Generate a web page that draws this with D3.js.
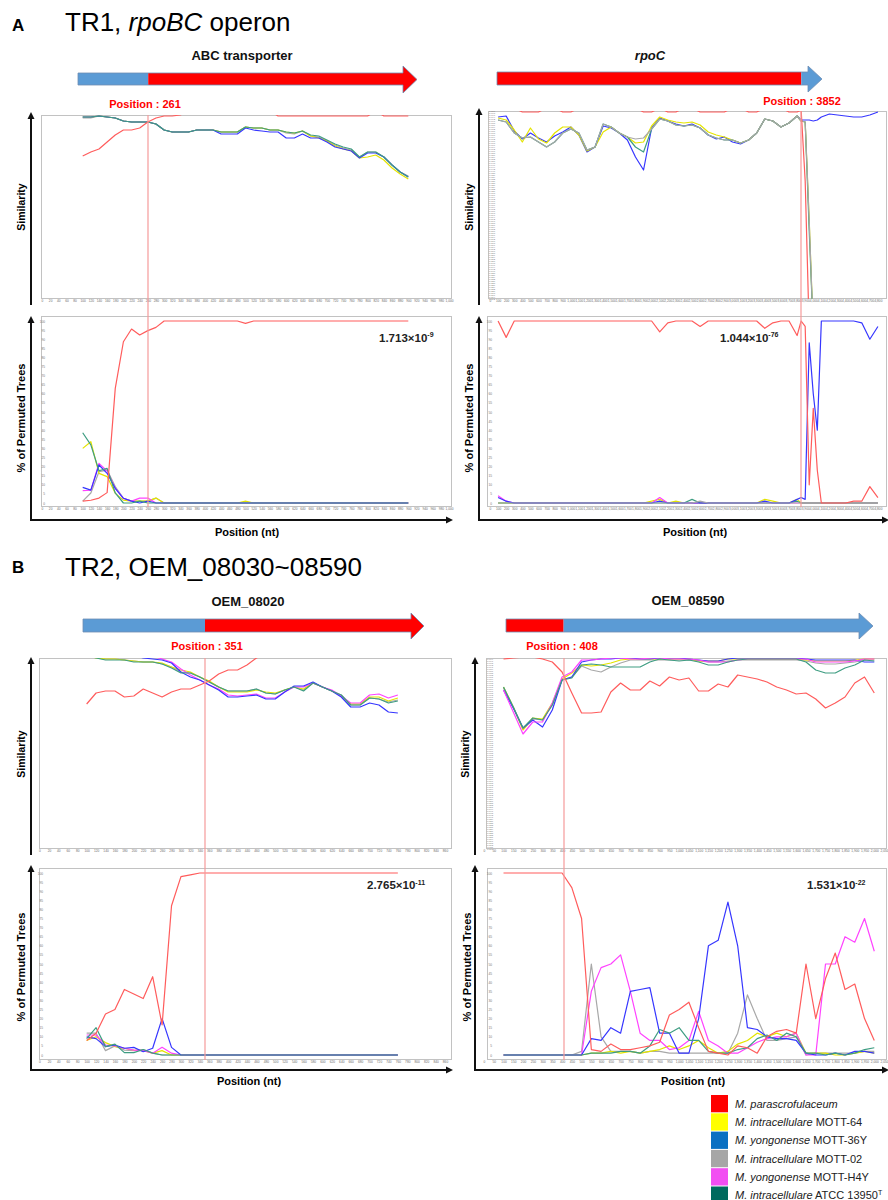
<!DOCTYPE html>
<html>
<head>
<meta charset="utf-8">
<script src="https://cdn.jsdelivr.net/npm/d3@7/dist/d3.min.js"></script>
<style>
html,body{margin:0;padding:0;background:#fff;}
svg{display:block;}
</style>
</head>
<body>
<svg id="fig" width="888" height="1200" viewBox="0 0 888 1200"></svg>
<script>
// ================= DATA =================
const legendSpecies = ["M. parascrofulaceum","M. intracellulare","M. yongonense","M. intracellulare","M. yongonense","M. intracellulare"];
const legendStrains = ["","MOTT-64","MOTT-36Y","MOTT-02","MOTT-H4Y","ATCC 13950"];
const legendKeys = ["red","yellow","blue","gray","magenta","teal"];

// ---- Panel A, left : ABC transporter ----
const posA1 = [100,120,140,160,180,200,220,240,260,280,300,320,340,360,380,400,420,440,460,480,500,520,540,560,580,600,620,640,660,680,700,720,740,760,780,800,820,840,860,880,900];
const simA1_red = [0.959,0.963,0.966,0.973,0.980,0.985,0.985,0.987,0.993,0.997, 0.999,0.999,1.000,1.004,1.004,1.004,1.004,1.004,1.004,1.004, 1.004,1.004,1.004,1.004,0.999,0.999,0.999,0.999,0.999,0.999, 0.999,0.999,0.999,0.999,0.999,0.999,1.004,0.999,0.999,0.999,0.999];
const simA1_yellow = [0.998,0.998,0.999,0.998,0.997,0.994,0.993,0.993,0.993,0.991, 0.985,0.983,0.983,0.983,0.985,0.985,0.985,0.983,0.983,0.983, 0.988,0.987,0.987,0.985,0.985,0.983,0.982,0.984,0.979,0.977, 0.974,0.969,0.966,0.964,0.957,0.958,0.960,0.955,0.947,0.941,0.936];
const simA1_blue = [0.998,0.998,0.999,0.998,0.997,0.994,0.993,0.993,0.993,0.991, 0.985,0.983,0.983,0.983,0.985,0.985,0.985,0.981,0.981,0.981, 0.987,0.985,0.984,0.983,0.983,0.977,0.977,0.981,0.977,0.977, 0.973,0.968,0.966,0.964,0.957,0.962,0.962,0.958,0.950,0.943,0.938];
const simA1_gray = [0.997,0.997,0.999,0.998,0.997,0.994,0.993,0.993,0.993,0.991, 0.985,0.983,0.983,0.983,0.985,0.985,0.985,0.983,0.983,0.983, 0.988,0.987,0.987,0.985,0.985,0.982,0.981,0.984,0.979,0.978, 0.974,0.970,0.967,0.965,0.958,0.963,0.963,0.958,0.950,0.943,0.939];
const simA1_teal = [0.998,0.998,0.999,0.998,0.997,0.994,0.993,0.993,0.993,0.991, 0.985,0.983,0.983,0.983,0.985,0.985,0.985,0.983,0.983,0.983, 0.988,0.987,0.987,0.985,0.985,0.983,0.982,0.984,0.980,0.979, 0.975,0.971,0.968,0.966,0.958,0.963,0.963,0.958,0.950,0.943,0.938];
const permA1_red = [1,1.5,2.7,5.7,63,88.6,95.6,92.3,94.7,96.5, 100,100,100,100,100,100,100,100,100,100, 98.7,100,100,100,100,100,100,100,100,100, 100,100,100,100,100,100,100,100,100,100,100];
const permA1_yellow = [30,33.7,16.3,14.5,5.3,1.6,1,1,1,2.7, 0,0,0,0,0,0,0,0,0,0, 1,0,0,0,0,0,0,0,0,0, 0,0,0,0,0,0,0,0,0,0,0];
const permA1_blue = [8.6,7.1,20.9,16.3,8.1,2.6,1,0,1,0, 0,0,0,0,0,0,0,0,0,0, 0,0,0,0,0,0,0,0,0,0, 0,0,0,0,0,0,0,0,0,0,0];
const permA1_gray = [1,5.5,17.2,18.1,9,2.6,1,1,1,2.7, 0,0,0,0,0,0,0,0,0,0, 0,0,0,0,0,0,0,0,0,0, 0,0,0,0,0,0,0,0,0,0,0];
const permA1_magenta = [6.8,7,21.8,17.6,8,2.6,1,2.7,2.7,0, 0,0,0,0,0,0,0,0,0,0, 0,0,0,0,0,0,0,0,0,0, 0,0,0,0,0,0,0,0,0,0,0];
const permA1_teal = [38.6,31.9,17.7,19,5.5,0,0,1,0,0, 0,0,0,0,0,0,0,0,0,0, 0,0,0,0,0,0,0,0,0,0, 0,0,0,0,0,0,0,0,0,0,0];

// ---- Panel A, right : rpoC ----
const posA2 = [100,200,300,400,500,600,700,800,900,1000,1100,1200,1300,1400,1500,1600,1700,1800,1900,2000,2100,2200,2300,2400,2500,2600,2700,2800,2900,3000,3100,3200,3300,3400,3500,3600,3700,3800,3850,3900,3950,4000,4050,4100,4200,4300,4400,4500,4600,4700,4800];
const simA2_red = [1.003,1.003,1.003,0.999,0.999,0.999,1.003,1.003,0.999,0.999, 1.003,1.003,1.003,1.003,1.003,1.003,1.003,1.003,0.999,0.999, 1.003,0.999,0.999,1.003,1.003,0.999,0.999,0.999,0.999,1.003, 1.003,0.999,0.999,1.003,1.003,1.003,0.999,0.999, 1.001,0.930,0.780,0.780,0.780,0.780,0.780,0.780,0.780,0.780,0.780,0.780,0.780];
const simA2_yellow = [0.993,0.991,0.981,0.969,0.983,0.972,0.968,0.978,0.984,0.984, 0.976,0.960,0.964,0.979,0.984,0.978,0.974,0.968,0.969,0.985, 0.994,0.991,0.989,0.988,0.989,0.986,0.979,0.976,0.974,0.971, 0.968,0.971,0.978,0.992,0.990,0.984,0.988,0.995, 0.990,0.989,0.890,0.780,0.780,0.780,0.780,0.780,0.780,0.780,0.780,0.780,0.780];
const simA2_blue = [0.994,0.995,0.980,0.972,0.978,0.973,0.969,0.975,0.979,0.984, 0.976,0.959,0.964,0.985,0.983,0.978,0.971,0.954,0.941,0.983, 0.993,0.990,0.987,0.985,0.987,0.983,0.976,0.972,0.974,0.969, 0.967,0.971,0.978,0.992,0.990,0.984,0.988,0.995, 0.991,0.991,0.991,0.990,0.991,0.994,0.997,0.996,0.995,0.994,0.994,0.996,0.999];
const simA2_gray = [0.991,0.989,0.978,0.973,0.974,0.969,0.964,0.969,0.978,0.982, 0.978,0.961,0.964,0.987,0.984,0.978,0.974,0.972,0.973,0.982, 0.992,0.990,0.986,0.985,0.986,0.983,0.976,0.973,0.971,0.971, 0.968,0.971,0.978,0.992,0.990,0.984,0.988,0.995, 0.990,0.989,0.890,0.780,0.780,0.780,0.780,0.780,0.780,0.780,0.780,0.780,0.780];
const simA2_teal = [0.991,0.989,0.978,0.973,0.974,0.969,0.964,0.969,0.978,0.982, 0.978,0.961,0.964,0.987,0.984,0.978,0.974,0.964,0.959,0.982, 0.992,0.990,0.986,0.985,0.986,0.983,0.976,0.973,0.971,0.971, 0.968,0.971,0.978,0.992,0.990,0.984,0.988,0.995, 0.990,0.989,0.880,0.780,0.780,0.780,0.780,0.780,0.780,0.780,0.780,0.780,0.780];
const permA2_red = [100,91,100,100,100,100,100,100,100,100, 100,100,100,100,100,100,100,100,100,100, 94,99,100,100,100,97,100,100,100,100, 100,100,100,96,99,100,100,92, 100,97,10,52,18,0,0,0,0,1,1,9,3];
const permA2_yellow = [0,0,0,0,0,0,0,0,0,0, 0,0,0,0,0,0,0,0,0,1, 2,0,1,0,0,0,0,0,0,0, 0,0,0,2,1,0,0,2, 0,0,0,0,0,0,0,0,0,0,0,0,0];
const permA2_blue = [3,1,0,0,0,0,0,0,0,0, 0,0,0,0,0,0,0,0,0,0, 1,0,0,0,0,0,0,0,0,0, 0,0,0,1,0,0,0,2, 3,2,88,60,40,100,100,100,100,100,99,90,97];
const permA2_gray = [0,0,0,0,0,0,0,0,0,0, 0,0,0,0,0,0,0,0,0,0, 0,0,0,0,0,1,0,0,0,0, 0,0,0,0,0,0,0,0, 0,0,0,0,0,0,0,0,0,0,0,0,0];
const permA2_magenta = [4,1,0,0,0,0,0,0,0,0, 0,0,0,0,0,0,0,0,0,0, 3,0,0,0,0,0,0,0,0,0, 0,0,0,0,0,0,0,0, 0,0,0,0,0,0,0,0,0,0,0,0,0];
const permA2_teal = [0,0,0,0,0,0,0,0,0,0, 0,0,0,0,0,0,0,0,0,0, 0,0,0,0,2,0,0,0,0,0, 0,0,0,0,0,0,0,1, 0,0,0,0,0,0,0,0,0,0,0,0,0];

// ---- Panel B, left : OEM_08020 ----
const posB1 = [100,120,140,160,180,200,220,240,260,280,300,320,340,360,380,400,420,440,460,480,500,520,540,560,580,600,620,640,660,680,700,720,740,760];
const simB1_red = [0.954,0.965,0.967,0.967,0.961,0.962,0.969,0.965,0.961,0.966, 0.969,0.969,0.973,0.977,0.984,0.988,0.988,0.993,1.000,1.004, 1.004,1.004,1.004,1.004,1.004,1.004,1.004,1.004,1.004,1.004, 1.004,1.004,1.004,1.004];
const simB1_yellow = [1.003,1.000,0.999,0.999,0.998,0.997,0.996,0.996,0.995,0.991, 0.988,0.986,0.981,0.977,0.971,0.966,0.966,0.966,0.968,0.966, 0.965,0.968,0.971,0.969,0.975,0.971,0.967,0.962,0.954,0.954, 0.961,0.961,0.957,0.960];
const simB1_blue = [1.003,1.003,1.003,1.003,1.003,1.003,1.000,0.999,0.998,0.995, 0.986,0.981,0.978,0.973,0.968,0.961,0.961,0.962,0.963,0.959, 0.959,0.966,0.972,0.972,0.976,0.971,0.967,0.961,0.951,0.951, 0.955,0.953,0.946,0.945];
const simB1_gray = [1.003,1.001,0.999,0.999,0.998,0.997,0.996,0.996,0.994,0.991, 0.986,0.985,0.981,0.976,0.971,0.967,0.967,0.967,0.969,0.965, 0.964,0.968,0.971,0.968,0.975,0.971,0.967,0.963,0.953,0.953, 0.960,0.959,0.956,0.958];
const simB1_magenta = [1.003,1.003,1.003,1.003,1.003,1.003,1.003,1.002,0.999,0.996, 0.989,0.983,0.978,0.973,0.969,0.963,0.962,0.963,0.964,0.960, 0.960,0.966,0.971,0.971,0.975,0.971,0.968,0.962,0.955,0.955, 0.963,0.964,0.960,0.963];
const simB1_teal = [1.003,1.000,0.998,0.998,0.998,0.996,0.996,0.996,0.994,0.990, 0.985,0.985,0.981,0.976,0.971,0.967,0.967,0.967,0.969,0.965, 0.964,0.968,0.971,0.967,0.975,0.971,0.967,0.963,0.953,0.953, 0.960,0.959,0.955,0.957];
const permB1_red = [8,12,22.5,25,36,33.5,31,43,16.5,82, 98,99,100,100,100,100,100,100,100,100, 100,100,100,100,100,100,100,100,100,100, 100,100,100,100];
const permB1_yellow = [8,10,6.8,4.6,3.7,2.7,2.4,1,2.4,0, 0,0,0,0,0,0,0,0,0,0, 0,0,0,0,0,0,0,0,0,0, 0,0,0,0];
const permB1_blue = [10,9,4.6,5.5,3.7,4.2,1.8,3.7,20,4.2, 0,0,0,0,0,0,0,0,0,0, 0,0,0,0,0,0,0,0,0,0, 0,0,0,0];
const permB1_gray = [12,12,2.4,5,2.7,2.4,3,1,0,0, 0,0,0,0,0,0,0,0,0,0, 0,0,0,0,0,0,0,0,0,0, 0,0,0,0];
const permB1_magenta = [11,11,5.5,5,3.7,2.7,2.4,1,4.2,1, 0,0,0,0,0,0,0,0,0,0, 0,0,0,0,0,0,0,0,0,0, 0,0,0,0];
const permB1_teal = [9,15,4.6,6,1.3,1.3,3,1,0,0, 0,0,0,0,0,0,0,0,0,0, 0,0,0,0,0,0,0,0,0,0, 0,0,0,0];

// ---- Panel B, right : OEM_08590 ----
const posB2 = [100,150,200,250,300,350,400,450,500,550,600,650,700,750,800,850,900,950,1000,1050,1100,1150,1200,1250,1300,1350,1400,1450,1500,1550,1600,1650,1700,1750,1800,1850,1900,1950,2000];
const simB2_red = [0.999,1.000,1.001,1.001,0.999,0.996,0.986,0.965,0.945,0.945, 0.946,0.966,0.975,0.968,0.968,0.977,0.972,0.981,0.978,0.980, 0.967,0.967,0.974,0.971,0.983,0.981,0.979,0.976,0.971,0.968, 0.964,0.965,0.959,0.950,0.955,0.961,0.975,0.981,0.965];
const simB2_yellow = [0.971,0.951,0.928,0.940,0.939,0.955,0.979,0.985,0.993,0.992, 0.993,0.995,0.998,0.999,0.999,0.999,0.999,0.999,0.999,0.999, 0.997,0.997,0.997,0.999,0.999,0.999,0.999,0.999,0.999,0.999, 0.999,0.998,0.997,0.997,0.997,0.997,0.998,0.999,0.999];
const simB2_blue = [0.968,0.950,0.930,0.938,0.931,0.948,0.978,0.981,0.996,0.998, 0.999,0.999,1.000,1.000,0.999,0.999,1.000,1.000,1.000,0.999, 0.998,0.997,0.997,0.999,1.000,1.000,1.000,1.000,1.000,1.000, 1.000,0.999,0.998,0.998,0.998,0.998,0.998,0.996,0.996];
const simB2_gray = [0.970,0.951,0.929,0.939,0.938,0.953,0.978,0.981,0.992,0.988, 0.986,0.991,0.995,0.998,0.998,0.998,0.998,0.998,0.998,0.998, 0.997,0.996,0.996,0.997,0.998,0.998,0.998,0.998,0.998,0.998, 0.998,0.997,0.995,0.994,0.994,0.995,0.996,0.998,0.998];
const simB2_magenta = [0.968,0.946,0.924,0.936,0.936,0.955,0.981,0.986,0.998,0.998, 0.999,1.000,1.000,0.999,0.999,1.000,1.000,0.999,0.999,0.999, 0.998,0.996,0.996,0.996,0.998,0.999,0.999,0.999,0.999,0.999, 0.999,0.999,0.996,0.996,0.996,0.996,0.997,0.999,0.999];
const simB2_teal = [0.971,0.951,0.930,0.940,0.938,0.953,0.978,0.980,0.993,0.994, 0.993,0.991,0.991,0.991,0.991,0.996,0.999,0.998,0.997,0.998, 0.996,0.993,0.993,0.996,0.998,0.999,0.999,0.999,0.999,0.999, 0.999,0.996,0.988,0.985,0.985,0.990,0.993,0.998,0.997];
const permB2_red = [100,100,100,100,100,100,100,92,75,3, 2,6,3,3,4,5,7,22,25,29, 15,2,1,0,5,4,1,10,13,14, 12,50,20,42,56,36,39,20,8];
const permB2_yellow = [0,0,0,0,0,0,0,0,0,1, 1,2,1,2,1,2,3,5,3,5, 8,4,1,2,6,8,12,10,12,10, 12,1,1,1,0,0,1,2,1];
const permB2_blue = [0,0,0,0,0,0,0,0,0,9, 8,15,12,35,36,37,12,12,1,1, 20,60,63,84,60,15,14,10,9,9, 8,1,0,0,1,0,2,2,1];
const permB2_gray = [0,0,0,0,0,0,0,0,2,50, 10,2,2,2,1,2,2,1,1,1, 1,1,1,1,12,33,20,8,8,9, 10,0,1,1,1,1,1,2,2];
const permB2_magenta = [0,0,0,0,0,0,0,0,0,35, 48,50,55,35,12,8,8,3,4,8, 24,8,5,1,1,4,7,9,10,10, 12,0,0,50,50,65,62,75,57];
const permB2_teal = [0,0,0,0,0,0,0,0,0,1, 1,1,2,2,1,5,14,12,15,8, 8,2,1,1,3,4,9,11,8,12, 10,1,1,0,1,0,1,3,4];

// breakpoints and p-values
const breakA1 = 261, breakA2 = 3852, breakB1 = 351, breakB2 = 408;
const pvals = [["1.713","-9"],["1.044","-76"],["2.765","-11"],["1.531","-22"]];

// ================= STYLE =================
const FONT = '"Liberation Sans", Arial, Helvetica, sans-serif';
const lineColor = {red:"#ff5c5c", yellow:"#e4e400", blue:"#3636ff", gray:"#a8a8a8", magenta:"#ff42ff", teal:"#3e9d82"};
const legendColor = {red:"#ff0000", yellow:"#ffff00", blue:"#0a70c2", gray:"#a6a6a6", magenta:"#f24ef2", teal:"#006a5e"};
const geneBlue = "#5b9bd5", geneRed = "#ff0000";

const svg = d3.select("#fig");
const defs = svg.append("defs");
svg.append("rect").attr("width",888).attr("height",1200).attr("fill","#fff");

function txt(x, y, s, o) {
  o = o || {};
  const t = svg.append("text").attr("x", x).attr("y", y)
    .attr("font-family", FONT).attr("font-size", o.size || 12)
    .attr("font-weight", o.bold ? "bold" : "normal")
    .attr("font-style", o.italic ? "italic" : "normal")
    .attr("fill", o.fill || "#000")
    .attr("text-anchor", o.anchor || "start");
  if (o.rotate) {
    t.attr("x", 0).attr("y", 0).attr("transform", `translate(${x},${y}) rotate(-90)`).attr("dominant-baseline", "central");
  }
  if (s !== null) t.text(s);
  return t;
}

function drawPlot(p) {
  const g = svg.append("g");
  const b = p.box;
  const cid = "clip-" + p.id;
  defs.append("clipPath").attr("id", cid).append("rect")
    .attr("x", b.x0).attr("y", b.y0).attr("width", b.x1 - b.x0).attr("height", b.y1 - b.y0);
  g.append("rect").attr("x", b.x0 + 0.5).attr("y", b.y0 + 0.5)
    .attr("width", b.x1 - b.x0 - 1).attr("height", b.y1 - b.y0 - 1)
    .attr("fill", "#fff").attr("stroke", "#c2c2c2").attr("stroke-width", 1);
  const ax = g.append("g").attr("transform", `translate(0,${b.y1 + 1.2})`)
    .call(d3.axisBottom(p.x).tickValues(p.xTicks).tickFormat(p.xFmt).tickSize(0).tickPadding(0));
  ax.select(".domain").remove();
  ax.selectAll("text").attr("font-size", 3.2).attr("fill", "#6a6a6a").attr("font-family", FONT);
  if (p.yTicks) {
    const ay = g.append("g").attr("transform", `translate(${b.x0 + p.yDx},0)`)
      .call(d3.axisLeft(p.y).tickValues(p.yTicks).tickFormat(p.yFmt).tickSize(0).tickPadding(0));
    ay.select(".domain").remove();
    ay.selectAll("text").attr("font-size", p.yFont).attr("fill", "#777").attr("font-family", FONT);
  }
  const line = d3.line().x((d, i) => p.x(p.pos[i])).y(d => p.y(d));
  p.order.forEach(k => {
    const vals = p.series[k];
    if (!vals) return;
    g.append("path").datum(vals).attr("d", line).attr("clip-path", `url(#${cid})`)
      .attr("fill", "none").attr("stroke", lineColor[k]).attr("stroke-width", 1.2)
      .attr("stroke-linejoin", "round");
  });
}

function arrowUp(x, yb, yt) {
  svg.append("line").attr("x1", x).attr("x2", x).attr("y1", yb).attr("y2", yt + 6)
    .attr("stroke", "#111").attr("stroke-width", 2);
  svg.append("path").attr("d", `M${x-3.5},${yt+7}L${x},${yt}L${x+3.5},${yt+7}Z`).attr("fill", "#111");
}
function arrowRight(y, xl, xr) {
  svg.append("line").attr("x1", xl - 1).attr("x2", xr - 6).attr("y1", y).attr("y2", y)
    .attr("stroke", "#111").attr("stroke-width", 2);
  svg.append("path").attr("d", `M${xr-7},${y-3.5}L${xr},${y}L${xr-7},${y+3.5}Z`).attr("fill", "#111");
}
function geneArrow(a) {
  const cy = (a.hy0 + a.hy1) / 2;
  svg.append("rect").attr("x", a.x0).attr("y", a.sy0).attr("width", a.split - a.x0).attr("height", a.sy1 - a.sy0).attr("fill", a.c1);
  svg.append("path").attr("d", `M${a.split},${a.sy0}H${a.hb}V${a.hy0}L${a.tip},${cy}L${a.hb},${a.hy1}V${a.sy1}H${a.split}Z`).attr("fill", a.c2);
  svg.append("path").attr("d", `M${a.x0},${a.sy0}H${a.hb}V${a.hy0}L${a.tip},${cy}L${a.hb},${a.hy1}V${a.sy1}H${a.x0}Z`)
    .attr("fill", "none").attr("stroke", "#6e8db3").attr("stroke-width", 0.8);
}

const f3 = d3.format(".3f"), fc = d3.format(",");
const permTicks = d3.range(0, 101, 5);

// ---------- scales ----------
const xA1 = d3.scaleLinear().domain([0, 1000]).range([42, 449]);
const xA2 = d3.scaleLinear().domain([0, 4900]).range([490, 886]);
const xB1 = d3.scaleLinear().domain([0, 860]).range([39.5, 445]);
const xB2 = d3.scaleLinear().domain([0, 2060]).range([484, 886]);
const ySimA1 = d3.scaleLinear().domain([0.816, 1]).range([299, 115]);
const ySimA2 = d3.scaleLinear().domain([0.812, 1]).range([299, 111]);
const ySimB = d3.scaleLinear().domain([0.809, 1]).range([849, 658]);
const yPermA = d3.scaleLinear().domain([0, 100]).range([503, 321]);
const yPermB = d3.scaleLinear().domain([0, 100]).range([1055, 873]);

const defOrder = ["gray","yellow","magenta","blue","teal","red"];

// ---------- plots ----------
drawPlot({id:"sA1", box:{x0:41,y0:115,x1:452,y1:299}, x:xA1, y:ySimA1, pos:posA1,
  xTicks:d3.range(0,1001,20), xFmt:fc, order:defOrder,
  series:{red:simA1_red, yellow:simA1_yellow, blue:simA1_blue, gray:simA1_gray, teal:simA1_teal}});
drawPlot({id:"pA1", box:{x0:41,y0:316,x1:452,y1:507}, x:xA1, y:yPermA, pos:posA1,
  xTicks:d3.range(0,1001,20), xFmt:fc, yTicks:permTicks, yFmt:d3.format("d"), yDx:4, yFont:3.2, order:defOrder,
  series:{red:permA1_red, yellow:permA1_yellow, blue:permA1_blue, gray:permA1_gray, magenta:permA1_magenta, teal:permA1_teal}});
drawPlot({id:"sA2", box:{x0:488,y0:111,x1:887,y1:299}, x:xA2, y:ySimA2, pos:posA2,
  xTicks:d3.range(0,4801,100), xFmt:fc, yTicks:d3.range(0.812,1.0001,0.002), yFmt:f3, yDx:7, yFont:2.4,
  order:["blue","yellow","teal","gray","red"],
  series:{red:simA2_red, yellow:simA2_yellow, blue:simA2_blue, gray:simA2_gray, teal:simA2_teal}});
drawPlot({id:"pA2", box:{x0:487,y0:316,x1:887,y1:507}, x:xA2, y:yPermA, pos:posA2,
  xTicks:d3.range(0,4801,100), xFmt:fc, yTicks:permTicks, yFmt:d3.format("d"), yDx:5, yFont:3.2,
  order:["yellow","magenta","teal","blue","gray","red"],
  series:{red:permA2_red, yellow:permA2_yellow, blue:permA2_blue, gray:permA2_gray, magenta:permA2_magenta, teal:permA2_teal}});
drawPlot({id:"sB1", box:{x0:39,y0:658,x1:452,y1:849}, x:xB1, y:ySimB, pos:posB1,
  xTicks:d3.range(0,861,20), xFmt:fc, order:defOrder,
  series:{red:simB1_red, yellow:simB1_yellow, blue:simB1_blue, gray:simB1_gray, magenta:simB1_magenta, teal:simB1_teal}});
drawPlot({id:"pB1", box:{x0:39,y0:868,x1:452,y1:1060}, x:xB1, y:yPermB, pos:posB1,
  xTicks:d3.range(0,861,20), xFmt:fc, yTicks:permTicks, yFmt:d3.format("d"), yDx:4, yFont:3.2, order:defOrder,
  series:{red:permB1_red, yellow:permB1_yellow, blue:permB1_blue, gray:permB1_gray, magenta:permB1_magenta, teal:permB1_teal}});
drawPlot({id:"sB2", box:{x0:486,y0:658,x1:887,y1:849}, x:xB2, y:ySimB, pos:posB2,
  xTicks:d3.range(0,2051,50), xFmt:fc, yTicks:d3.range(0.809,1.0001,0.002), yFmt:f3, yDx:7, yFont:2.4,
  order:["gray","yellow","blue","magenta","teal","red"],
  series:{red:simB2_red, yellow:simB2_yellow, blue:simB2_blue, gray:simB2_gray, magenta:simB2_magenta, teal:simB2_teal}});
drawPlot({id:"pB2", box:{x0:487,y0:868,x1:887,y1:1060}, x:xB2, y:yPermB, pos:posB2,
  xTicks:d3.range(0,2051,50), xFmt:fc, yTicks:permTicks, yFmt:d3.format("d"), yDx:5, yFont:3.2, order:defOrder,
  series:{red:permB2_red, yellow:permB2_yellow, blue:permB2_blue, gray:permB2_gray, magenta:permB2_magenta, teal:permB2_teal}});

// ---------- breakpoint markers ----------
[[xA1(breakA1),115,507],[xA2(breakA2),111,507],[xB1(breakB1),658,1060],[xB2(breakB2),658,1060]].forEach(m => {
  const xx = Math.round(m[0]);
  svg.append("line").attr("x1", xx).attr("x2", xx).attr("y1", m[1]).attr("y2", m[2])
    .attr("stroke", "#f59a9a").attr("stroke-width", 1.2);
});

// ---------- axes arrows ----------
arrowUp(31, 305, 112); arrowUp(31, 521, 316); arrowRight(520, 31, 453);
arrowUp(479, 305, 108); arrowUp(479, 521, 316); arrowRight(520, 479, 889);
arrowUp(31, 855, 657); arrowUp(31, 1071, 865); arrowRight(1070, 31, 453);
arrowUp(475, 855, 657); arrowUp(475, 1071, 865); arrowRight(1070, 475, 889);

// ---------- axis titles ----------
[[20.5,207],[469,207],[20.5,754],[465,754]].forEach(p => txt(p[0], p[1], "Similarity", {size:10.5, bold:true, anchor:"middle", rotate:true}));
[[20.5,418],[468.5,418],[20.5,967],[466.5,967]].forEach(p => txt(p[0], p[1], "% of Permuted Trees", {size:11, bold:true, anchor:"middle", rotate:true}));
[[247,536],[695,536],[249,1085],[693,1085]].forEach(p => txt(p[0], p[1], "Position (nt)", {size:11, bold:true, anchor:"middle"}));

// ---------- p-values ----------
[[379,341.5],[720,341.5],[367,889],[807,889]].forEach((p, i) => {
  const t = txt(p[0], p[1], null, {size:11.5, bold:true, fill:"#222"});
  t.append("tspan").text(pvals[i][0] + "\u00d710");
  t.append("tspan").attr("dy", -4.5).attr("font-size", 7).text(pvals[i][1]);
});

// ---------- panel titles ----------
txt(12, 31, "A", {size:17, bold:true});
const tA = txt(65, 31, null, {size:26});
tA.append("tspan").text("TR1, ");
tA.append("tspan").attr("font-style", "italic").text("rpoBC");
tA.append("tspan").text(" operon");
txt(12, 573, "B", {size:17, bold:true});
txt(65, 576, "TR2, OEM_08030~08590", {size:26});

// ---------- gene arrows ----------
geneArrow({x0:78, split:xA1(breakA1), hb:403, tip:417, sy0:73, sy1:85, hy0:66, hy1:93, c1:geneBlue, c2:geneRed});
geneArrow({x0:497, split:xA2(breakA2), hb:808, tip:822, sy0:72, sy1:85, hy0:66, hy1:92, c1:geneRed, c2:geneBlue});
geneArrow({x0:83, split:xB1(breakB1), hb:411, tip:424, sy0:619, sy1:632, hy0:613, hy1:639, c1:geneBlue, c2:geneRed});
geneArrow({x0:506, split:xB2(breakB2), hb:859, tip:873, sy0:619, sy1:632, hy0:613, hy1:639, c1:geneRed, c2:geneBlue});

txt(242, 60, "ABC transporter", {size:13, bold:true, anchor:"middle", fill:"#111"});
txt(650, 60, "rpoC", {size:13, bold:true, italic:true, anchor:"middle", fill:"#111"});
txt(248, 606, "OEM_08020", {size:13, bold:true, anchor:"middle", fill:"#111"});
txt(688, 605, "OEM_08590", {size:13, bold:true, anchor:"middle", fill:"#111"});

txt(145, 108, "Position : " + breakA1, {size:11, bold:true, anchor:"middle", fill:"#ff0000"});
txt(802, 105, "Position : " + breakA2, {size:11, bold:true, anchor:"middle", fill:"#ff0000"});
txt(207, 650, "Position : " + breakB1, {size:11, bold:true, anchor:"middle", fill:"#ff0000"});
txt(562, 650, "Position : " + breakB2, {size:11, bold:true, anchor:"middle", fill:"#ff0000"});

// ---------- legend ----------
legendKeys.forEach((k, i) => {
  const y0 = 1095 + i * 18.3;
  svg.append("rect").attr("x", 711).attr("y", y0).attr("width", 17).attr("height", 17.3).attr("fill", legendColor[k]);
  const t = txt(735, y0 + 12.6, null, {size:11, fill:"#222"});
  t.append("tspan").attr("font-style", "italic").text(legendSpecies[i]);
  if (legendStrains[i]) t.append("tspan").text(" " + legendStrains[i]);
  if (k === "teal") t.append("tspan").attr("dy", -4).attr("font-size", 7).text("T");
});
</script>
</body>
</html>
